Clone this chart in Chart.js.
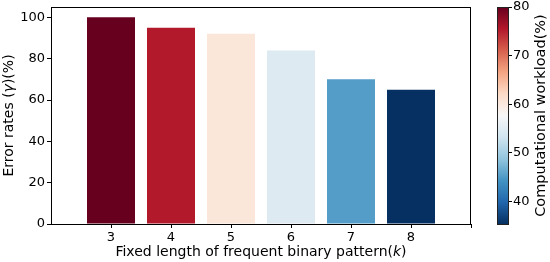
<!DOCTYPE html>
<html>
<head>
<meta charset="utf-8">
<script src="https://cdn.jsdelivr.net/npm/chart.js@4/dist/chart.umd.min.js"></script>
<style>
  html, body { margin: 0; padding: 0; background: #fff; }
  canvas { display: block; }
</style>
</head>
<body>
<canvas id="barChart" width="550" height="262"></canvas>
<script>
// data
const kValues = [3, 4, 5, 6, 7, 8];
const errorRates = [100, 95, 92, 84, 70, 65];
const workloads = [80, 75.5, 60.4, 54.6, 45.2, 35.4];
const yTicks = [0, 20, 40, 60, 80, 100];
const cbTicks = [40, 50, 60, 70, 80];

const FONT = "DejaVu Sans";

// RdBu_r colour map, low -> high
const rdbu = ["#053061", "#2166ac", "#4393c3", "#92c5de", "#d1e5f0", "#f7f7f7",
              "#fddbc7", "#f4a582", "#d6604d", "#b2182b", "#67001f"];

function hexToRgb(h) {
    return [1, 3, 5].map(i => parseInt(h.substr(i, 2), 16));
}

function cmap(t) {
    t = Math.max(0, Math.min(1, t)) * (rdbu.length - 1);
    const i = Math.min(Math.floor(t), rdbu.length - 2);
    const f = t - i;
    const a = hexToRgb(rdbu[i]), b = hexToRgb(rdbu[i + 1]);
    const c = a.map((v, j) => Math.round(v + (b[j] - v) * f));
    return "rgb(" + c.join(",") + ")";
}

const wMin = Math.min(...workloads);
const wMax = Math.max(...workloads);
const barColors = workloads.map(w => cmap((w - wMin) / (wMax - wMin)));

// text with italic pieces, centred on (x, y), optional rotation
function drawRich(ctx, parts, x, y, rot, size) {
    ctx.save();
    ctx.translate(x, y);
    ctx.rotate(rot);
    ctx.fillStyle = "#000";
    ctx.textBaseline = "middle";
    ctx.textAlign = "left";
    let total = 0;
    parts.forEach(p => {
        ctx.font = (p.i ? "italic " : "") + size + "px '" + FONT + "'";
        p.w = ctx.measureText(p.t).width;
        total += p.w;
    });
    let cx = -total / 2;
    parts.forEach(p => {
        ctx.font = (p.i ? "italic " : "") + size + "px '" + FONT + "'";
        ctx.fillText(p.t, cx, 0);
        cx += p.w;
    });
    ctx.restore();
}

function noPad(scale) {
    scale.paddingTop = 0;
    scale.paddingBottom = 0;
    scale.paddingLeft = 0;
    scale.paddingRight = 0;
}

const decorPlugin = {
    id: "decor",
    afterLayout(chart) {
        // move the colour bar axis away from the plot
        const s = chart.scales.cb;
        const shift = 38;
        s.left += shift;
        s.right += shift;
    },
    afterDraw(chart) {
        const ctx = chart.ctx;
        const a = chart.chartArea;
        const cb = chart.scales.cb;

        // frame around the plot
        ctx.save();
        ctx.strokeStyle = "#000";
        ctx.lineWidth = 1;
        ctx.strokeRect(a.left + 0.5, a.top + 0.5, a.right - a.left - 1, a.bottom - a.top);

        // colour bar
        const x0 = cb.left - 12, x1 = cb.left;
        const top = cb.getPixelForValue(wMax);
        const bot = cb.getPixelForValue(wMin);
        const g = ctx.createLinearGradient(0, bot, 0, top);
        rdbu.forEach((c, i) => g.addColorStop(i / (rdbu.length - 1), c));
        ctx.fillStyle = g;
        ctx.fillRect(x0, top, x1 - x0, bot - top);
        ctx.strokeStyle = "#222";
        ctx.strokeRect(x0 + 0.5, top + 0.5, x1 - x0 - 1, bot - top);
        ctx.restore();

        // axis titles
        drawRich(ctx, [{ t: "Error rates (" }, { t: "γ", i: true }, { t: ")(%)" }],
                 9, (a.top + a.bottom) / 2, -Math.PI / 2, 14);
        drawRich(ctx, [{ t: "Fixed length of frequent binary pattern(" }, { t: "k", i: true }, { t: ")" }],
                 (a.left + a.right) / 2, 252, 0, 14);
        drawRich(ctx, [{ t: "Computational workload(%)" }],
                 541, (a.top + a.bottom) / 2, -Math.PI / 2, 14.5);
    }
};

const ctx = document.getElementById("barChart").getContext("2d");
const chart = new Chart(ctx, {
    type: "bar",
    data: {
        datasets: [
            {
                label: "Error rates",
                data: kValues.map((k, i) => ({ x: k, y: errorRates[i] })),
                backgroundColor: barColors,
                borderWidth: 0,
                barPercentage: 0.8,
                categoryPercentage: 1,
            },
        ],
    },
    options: {
        responsive: false,
        animation: false,
        layout: { padding: { top: 7, left: 0, right: 0, bottom: 0 } },
        plugins: {
            legend: { display: false },
            tooltip: { enabled: false },
        },
        scales: {
            x: {
                type: "linear",
                min: 2,
                max: 9,
                offset: false,
                afterBuildTicks: (scale) => {
                    scale.ticks = [2, ...kValues, 9].map(v => ({ value: v }));
                },
                afterFit: (scale) => { scale.height = 38; noPad(scale); },
                ticks: {
                    font: { family: FONT, size: 13 },
                    color: "#000",
                    padding: 2,
                    maxRotation: 0,
                    callback: (v) => (kValues.includes(v) ? String(v) : ""),
                },
                grid: {
                    drawOnChartArea: false,
                    offset: false,
                    tickLength: 4,
                    tickColor: (c) => (c.tick && c.tick.value === 2 ? "rgba(0,0,0,0)" : "#000"),
                },
                border: { display: false },
            },
            y: {
                min: 0,
                max: 105,
                afterBuildTicks: (scale) => {
                    scale.ticks = yTicks.map(v => ({ value: v }));
                },
                afterFit: (scale) => { scale.width = 51; noPad(scale); },
                ticks: {
                    font: { family: FONT, size: 13 },
                    color: "#000",
                    padding: 2,
                },
                grid: {
                    drawOnChartArea: false,
                    tickLength: 4,
                    tickColor: "#000",
                },
                border: { display: false },
            },
            cb: {
                type: "linear",
                position: "right",
                min: wMin,
                max: wMax,
                afterBuildTicks: (scale) => {
                    scale.ticks = cbTicks.map(v => ({ value: v }));
                },
                afterFit: (scale) => { scale.width = 79; noPad(scale); },
                ticks: {
                    font: { family: FONT, size: 13 },
                    color: "#000",
                    padding: 1,
                },
                grid: {
                    drawOnChartArea: false,
                    tickLength: 3,
                    tickColor: "#000",
                },
                border: { display: false },
            },
        },
    },
    plugins: [decorPlugin],
});
</script>
</body>
</html>
